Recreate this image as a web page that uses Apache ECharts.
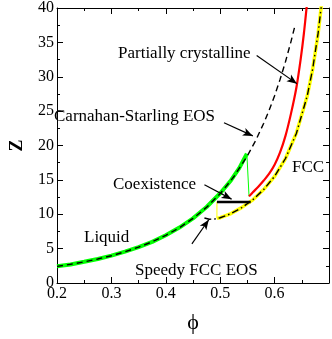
<!DOCTYPE html>
<html>
<head>
<meta charset="utf-8"/>
<title>Z vs phi</title>
<script src="https://cdn.jsdelivr.net/npm/echarts@6/dist/echarts.min.js"></script>
<style>
html, body { margin: 0; padding: 0; background: #fff; }
#main { width: 332px; height: 339px; }
</style>
</head>
<body>
<div id="main"></div>
<script>
// values: [phi, Z]
var csEos = [[0.2, 2.41], [0.225, 2.72], [0.25, 3.07], [0.275, 3.49], [0.3, 3.97], [0.325, 4.54], [0.35, 5.21],
    [0.375, 5.99], [0.4, 6.93], [0.425, 8.04], [0.45, 9.39], [0.475, 11.01], [0.5, 13.0], [0.525, 15.45],
    [0.55, 18.51], [0.565, 20.7], [0.58, 23.23], [0.59, 25.14], [0.6, 27.25], [0.61, 29.59], [0.62, 32.19],
    [0.63, 35.08], [0.638, 37.6]]
var liquid = [[0.2, 2.43], [0.225, 2.7], [0.25, 3.09], [0.275, 3.5], [0.3, 3.98], [0.325, 4.56], [0.35, 5.22],
    [0.375, 5.98], [0.4, 6.95], [0.425, 8.06], [0.45, 9.4], [0.475, 11.05], [0.5, 13.05], [0.52, 14.95],
    [0.535, 16.7], [0.549, 18.8]]
var liquidDrop = [[0.549, 18.8], [0.553, 12.6]]
var partial = [[0.553, 12.6], [0.56, 13.2], [0.57, 14.0], [0.58, 14.9], [0.59, 15.9], [0.6, 17.2], [0.61, 19.0],
    [0.62, 21.4], [0.63, 24.6], [0.64, 28.4], [0.648, 32.6], [0.654, 36.4], [0.659, 40.2]]
var fccDrop = [[0.494, 11.8], [0.494, 9.4]]
var fcc = [[0.494, 9.4], [0.5, 9.5], [0.52, 10.1], [0.54, 11.0], [0.56, 12.1], [0.58, 13.6], [0.6, 15.5],
    [0.62, 18.1], [0.64, 21.8], [0.66, 27.2], [0.67, 31.1], [0.68, 36.3], [0.686, 40.4]]
var speedyEos = [[0.471, 9.45], [0.48, 9.27], [0.49, 9.31], [0.5, 9.49], [0.52, 10.1], [0.54, 10.98],
    [0.56, 12.12], [0.58, 13.6], [0.6, 15.52], [0.62, 18.11], [0.64, 21.75], [0.66, 27.22], [0.67, 31.13],
    [0.68, 36.33], [0.686, 40.4]]
var coexistence = [[0.494, 11.8], [0.556, 11.8]]

// annotation arrows: [from, to]
var arrows = [
    [[0.567, 33.1], [0.641, 29.0]],
    [[0.507, 23.3], [0.56, 21.4]],
    [[0.471, 14.3], [0.521, 12.2]],
    [[0.448, 5.7], [0.479, 9.2]]
]
var notes = [
    ['Partially crystalline', 118, 54],
    ['Carnahan-Starling EOS', 54, 117],
    ['FCC', 292, 168],
    ['Coexistence', 113, 185],
    ['Liquid', 84, 238],
    ['Speedy FCC EOS', 135, 271]
]

var font = 'Liberation Serif'
var myChart = echarts.init(document.getElementById('main'))

function lineSeries(data, color, width, type, z) {
    return {
        type: 'line', data: data, showSymbol: false, silent: true, z: z,
        lineStyle: { color: color, width: width, type: type }
    }
}

function axisBase(extra) {
    var base = {
        type: 'value',
        axisLine: { show: true, onZero: false, lineStyle: { color: '#000', width: 1 } },
        axisTick: { show: true, inside: true, length: 6, lineStyle: { color: '#000' } },
        minorTick: { show: true, splitNumber: 2, length: 3, lineStyle: { color: '#000' } },
        splitLine: { show: false },
        axisLabel: { show: false }
    }
    return Object.assign(base, extra)
}

var csSeries = lineSeries(csEos, '#000', 1.4, [6, 4], 6)
csSeries.markLine = {
    silent: true,
    symbol: ['none', 'arrow'],
    symbolSize: [6, 10],
    label: { show: false },
    lineStyle: { color: '#000', width: 1.2, type: 'solid' },
    data: arrows.map(a => [{ coord: a[0] }, { coord: a[1] }])
}

var redSeries = lineSeries(partial, '#ff0000', 2.2, 'solid', 3)
redSeries.smooth = 0.3

var option = {
    animation: false,
    grid: { left: 41, right: 2, top: 8, bottom: 43 },
    xAxis: [
        axisBase({
            min: 0.2, max: 0.7, interval: 0.1, position: 'bottom',
            name: 'ϕ', nameLocation: 'middle', nameGap: 29,
            nameTextStyle: { fontFamily: font, fontSize: 22, color: '#000' },
            axisLabel: {
                show: true, margin: 3, fontFamily: font, fontSize: 16, color: '#000',
                formatter: v => (v > 0.69 ? '' : v.toFixed(1))
            }
        }),
        axisBase({ min: 0.2, max: 0.7, interval: 0.1, position: 'top' })
    ],
    yAxis: [
        axisBase({
            min: 0, max: 40, interval: 5, position: 'left',
            name: 'Z', nameLocation: 'middle', nameGap: 31, nameRotate: 90,
            nameTextStyle: { fontFamily: font, fontSize: 18, fontWeight: 'bold', color: '#000' },
            axisLabel: { show: true, margin: 3, fontFamily: font, fontSize: 16, color: '#000' }
        }),
        axisBase({ min: 0, max: 40, interval: 5, position: 'right' })
    ],
    graphic: notes.map(n => ({
        type: 'text', x: n[1], y: n[2], silent: true, z: 100,
        style: { text: n[0], fill: '#000', font: '17px "' + font + '"', verticalAlign: 'middle' }
    })),
    series: [
        lineSeries(liquid, '#00ff00', 4, 'solid', 2),
        lineSeries(liquidDrop, '#00ff00', 1, 'solid', 2),
        redSeries,
        lineSeries(fccDrop, '#ffff00', 1, 'solid', 3),
        lineSeries(fcc, '#ffff00', 3.5, 'solid', 3),
        lineSeries(coexistence, '#000', 2.5, 'solid', 5),
        csSeries,
        lineSeries(speedyEos, '#000', 1.4, [7, 3, 1.5, 3], 6)
    ]
}
myChart.setOption(option)
</script>
</body>
</html>
